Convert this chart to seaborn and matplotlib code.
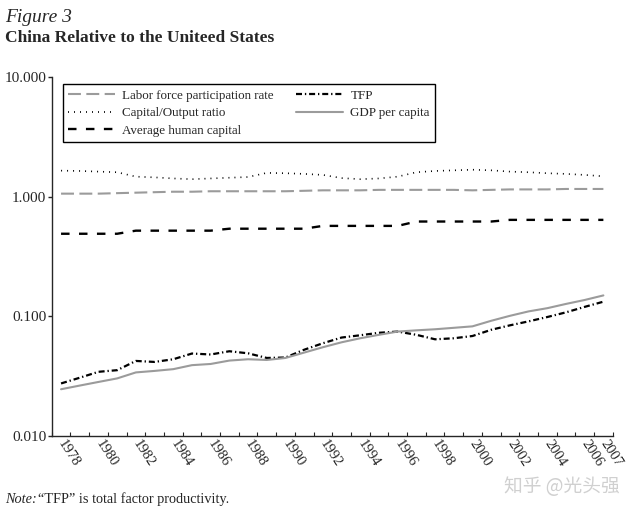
import numpy as np
import matplotlib
matplotlib.use("Agg")
import matplotlib.pyplot as plt
import matplotlib.ticker as mticker
import seaborn as sns

# China relative to the US, 1978-2007
years = list(range(1978, 2008))
labor_force = [1.06, 1.06, 1.06, 1.07, 1.08, 1.09, 1.10, 1.10, 1.11, 1.11,
               1.11, 1.11, 1.11, 1.12, 1.13, 1.13, 1.13, 1.14, 1.14, 1.14,
               1.14, 1.14, 1.13, 1.14, 1.15, 1.15, 1.15, 1.16, 1.16, 1.16]
capital_output = [1.65, 1.64, 1.62, 1.60, 1.47, 1.45, 1.42, 1.40, 1.42, 1.44,
                  1.46, 1.58, 1.57, 1.55, 1.52, 1.43, 1.40, 1.42, 1.47, 1.60,
                  1.64, 1.66, 1.68, 1.66, 1.62, 1.60, 1.57, 1.55, 1.52, 1.48]
human_capital = [0.49, 0.49, 0.49, 0.49, 0.52, 0.52, 0.52, 0.52, 0.52, 0.54,
                 0.54, 0.54, 0.54, 0.54, 0.57, 0.57, 0.57, 0.57, 0.57, 0.62,
                 0.62, 0.62, 0.62, 0.62, 0.64, 0.64, 0.64, 0.64, 0.64, 0.64]
tfp = [0.0275, 0.0307, 0.0344, 0.0355, 0.0424, 0.0416, 0.0438, 0.0489, 0.0480, 0.0511,
       0.0491, 0.0449, 0.0453, 0.0526, 0.0596, 0.0665, 0.0695, 0.0729, 0.0746, 0.0701,
       0.0643, 0.0656, 0.0685, 0.0772, 0.0841, 0.0908, 0.0987, 0.1080, 0.1200, 0.1326]
gdp_per_capita = [0.0246, 0.0264, 0.0283, 0.0303, 0.0340, 0.0350, 0.0362, 0.0391, 0.0400, 0.0427,
                  0.0438, 0.0432, 0.0449, 0.0498, 0.0552, 0.0607, 0.0656, 0.0701, 0.0746, 0.0764,
                  0.0780, 0.0802, 0.0825, 0.0918, 0.1010, 0.1100, 0.1170, 0.1270, 0.1370, 0.1496]

year_labels = list(range(1978, 2007, 2)) + [2007]
y_ticks = [0.01, 0.1, 1, 10]

sns.set_style("ticks")
plt.rcParams['font.family'] = ['Liberation Serif', 'DejaVu Serif']

fig = plt.figure(figsize=(6.36, 5.12), dpi=100)
ax = fig.add_axes([0.0813, 0.1484, 0.8821, 0.7012])

grey = "#9b9b9b"
sns.lineplot(x=years, y=labor_force, ax=ax, color=grey, linewidth=1.5,
             linestyle=(0, (6.2, 2.6)), label="Labor force participation rate")
sns.lineplot(x=years, y=capital_output, ax=ax, color="black", linewidth=1.2,
             linestyle=(0, (0.6, 3.0)), label="Capital/Output ratio")
sns.lineplot(x=years, y=human_capital, ax=ax, color="black", linewidth=1.7,
             linestyle=(0, (3.6, 4.0)), label="Average human capital")
sns.lineplot(x=years, y=tfp, ax=ax, color="black", linewidth=1.6,
             linestyle=(0, (2.7, 1.3, 0.6, 1.3)), label="TFP")
sns.lineplot(x=years, y=gdp_per_capita, ax=ax, color=grey, linewidth=1.5,
             label="GDP per capita")

ax.set_yscale("log")
ax.set_ylim(0.01, 10)
ax.yaxis.set_major_locator(mticker.FixedLocator(y_ticks))
ax.yaxis.set_minor_locator(mticker.NullLocator())
ax.yaxis.set_major_formatter(mticker.FormatStrFormatter("%.3f"))
ax.tick_params(axis="y", which="major", length=3, width=1, labelsize=11, pad=1)

ax.set_xlim(1977.5, 2007.5)
ax.set_xticks(year_labels)
ax.set_xticklabels([str(y) for y in year_labels])
ax.set_xticks(np.arange(1977.5, 2008, 1.0), minor=True)
ax.tick_params(axis="x", which="major", length=0, labelsize=10.5, pad=4)
ax.tick_params(axis="x", which="minor", length=3, width=0.8, direction="in")
for lab in ax.get_xticklabels():
    lab.set_rotation(-57)
    lab.set_ha("left")
    lab.set_va("center")
    lab.set_rotation_mode("anchor")

ax.set_xlabel("")
ax.set_ylabel("")
sns.despine(ax=ax)
for s in ("left", "bottom"):
    ax.spines[s].set_linewidth(1.0)

leg = ax.legend(loc="upper left", bbox_to_anchor=(0.02, 0.98), ncol=2,
                fontsize=9.4, frameon=True, fancybox=False, framealpha=1,
                edgecolor="black", handlelength=3.6, handletextpad=0.55,
                columnspacing=1.7, labelspacing=0.42, borderpad=0.4,
                borderaxespad=0)
leg.get_frame().set_linewidth(1.0)

fig.text(0.008, 0.957, "Figure 3", fontsize=14, style="italic", va="baseline")
fig.text(0.008, 0.918, "China Relative to the Uniteed States", fontsize=12.5,
         fontweight="bold", va="baseline")
fig.text(0.008, 0.018, "Note:", fontsize=10.3, style="italic", va="baseline")
fig.text(0.059, 0.018, "\u201cTFP\u201d is total factor productivity.", fontsize=10.3,
         va="baseline")
fig.text(0.975, 0.049, "知乎 @光头强", fontsize=13.5, color="#d0d0d0", ha="right",
         va="center", family=["Noto Sans CJK SC", "DejaVu Sans"])

fig.savefig("out.png", dpi=100)
